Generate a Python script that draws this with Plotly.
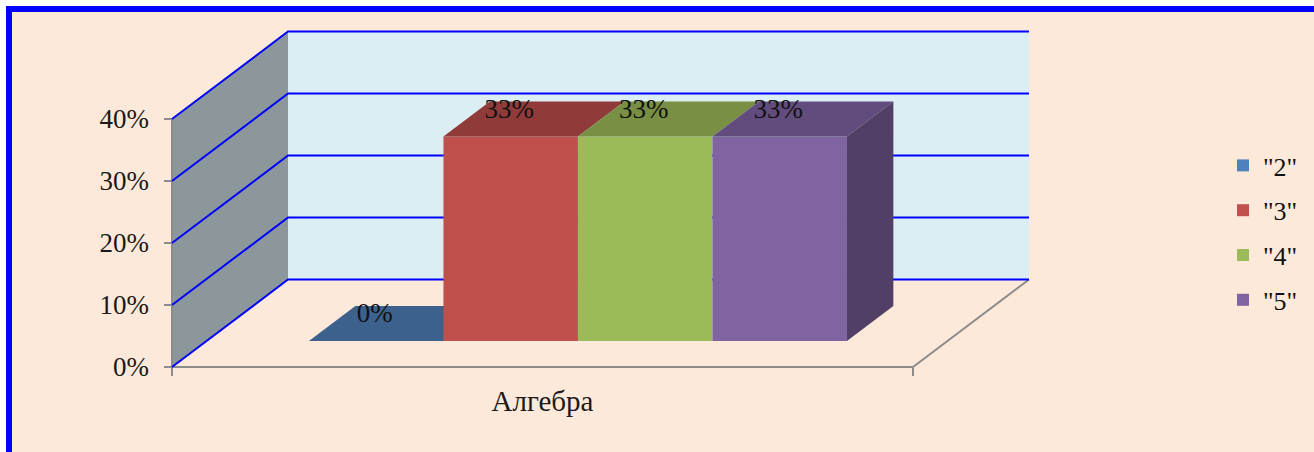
import plotly.graph_objects as go

categories = ["Алгебра"]
series_names = ['"2"', '"3"', '"4"', '"5"']
series_values = [0, 33, 33, 33]
value_labels = ["0%", "33%", "33%", "33%"]
y_ticks = [0, 10, 20, 30, 40]
y_tick_labels = ["0%", "10%", "20%", "30%", "40%"]

front_colors = ["#4F81BD", "#C0504D", "#9BBB59", "#8064A2"]
top_colors = ["#3C618D", "#8F3B39", "#788F44", "#624C7D"]
side_colors = ["#3A5A82", "#7F3432", "#6A7E3C", "#523F66"]

W, H = 1314, 452
FONT = "Liberation Serif"
BLUE = "#0000FF"
GRAY = "#8C8C8C"
TEXT_SIZE = 27

XU = 741.0          # px per category width
YU = 6.2            # px per percent
X0_PX, Y0_PX = 172, 367
DX = 116.0 / XU     # floor depth, x
DY = 87.5 / YU      # floor depth, y
PAD = 4
PAD_L = 10
TICK_PX = 8
YMAX = y_ticks[-1]

D0, D1 = 0.297, 0.697      # bar depth band
BAR_START = 102.5 / XU
BAR_W = 134.5 / XU
LABEL_LIFT = 4.1
LABEL_SHIFT = -1.5 / XU


def P(x, v, d=0.0):
    return x + d * DX, v + d * DY


def poly(points, color, z, name=""):
    xs, ys = zip(*points)
    return go.Scatter(x=list(xs) + [xs[0]], y=list(ys) + [ys[0]], mode="lines", fill="toself",
                      fillcolor=color, line=dict(width=0, color=color), showlegend=False,
                      hoverinfo="skip", zorder=z, name=name)


def line(points, color, width, z):
    xs, ys = zip(*points)
    return go.Scatter(x=list(xs), y=list(ys), mode="lines", line=dict(color=color, width=width),
                      showlegend=False, hoverinfo="skip", zorder=z)


fig = go.Figure()

# walls
fig.add_trace(poly([P(0, 0, 1), P(1, 0, 1), P(1, YMAX, 1), P(0, YMAX, 1)], "#DBEEF4", 0))
fig.add_trace(poly([P(0, 0), P(0, 0, 1), P(0, YMAX, 1), P(0, YMAX)], "#8C979C", 0))
# axes
fig.add_trace(line([P(0, 0), P(0, YMAX)], GRAY, 2, 0))
fig.add_trace(line([P(0, 0), P(1, 0), P(1, 0, 1)], GRAY, 2, 0))
for t in y_ticks:
    fig.add_trace(line([(-TICK_PX / XU, t), (0, t)], GRAY, 2, 0))
# gridlines
for t in y_ticks:
    fig.add_trace(line([P(0, t), P(0, t, 1), P(1, t, 1)], BLUE, 2, 0))

# bars
for i, (name, v) in enumerate(zip(series_names, series_values)):
    x0 = BAR_START + i * BAR_W
    x1 = x0 + BAR_W
    z = i + 1
    # top face
    fig.add_trace(poly([P(x0, v, D0), P(x1, v, D0), P(x1, v, D1), P(x0, v, D1)], top_colors[i], z))
    # front face (also the legend entry)
    cx, base = P((x0 + x1) / 2, 0, D0)
    fig.add_trace(go.Bar(x=[cx], y=[v], base=[base], width=[BAR_W], name=name,
                         marker=dict(color=front_colors[i], line=dict(width=0)),
                         legendgroup=name, hoverinfo="skip", zorder=z))
    # right side face, seen only on the last bar
    if i == len(series_values) - 1:
        fig.add_trace(poly([P(x1, 0, D0), P(x1, 0, D1), P(x1, v, D1), P(x1, v, D0)], side_colors[i], z))

# value labels
for i, (v, lab) in enumerate(zip(series_values, value_labels)):
    cx = BAR_START + (i + 0.5) * BAR_W + D0 * DX + LABEL_SHIFT
    fig.add_trace(go.Scatter(x=[cx], y=[v + D0 * DY + LABEL_LIFT], mode="text", text=[lab],
                             textposition="middle center",
                             textfont=dict(family=FONT, size=TEXT_SIZE, color="#111111"),
                             showlegend=False, hoverinfo="skip", zorder=9))

plot_w = XU * (1 + DX)
plot_h = YU * (YMAX + DY)
left = X0_PX - PAD_L
right = X0_PX + plot_w + PAD
bottom = Y0_PX + PAD
top = Y0_PX - plot_h - PAD

fig.update_layout(
    width=W, height=H, barmode="overlay",
    paper_bgcolor="white", plot_bgcolor="rgba(0,0,0,0)",
    margin=dict(l=0, r=0, t=0, b=0, pad=0, autoexpand=False),
    font=dict(family=FONT, size=TEXT_SIZE, color="#1A1A1A"),
    xaxis=dict(domain=[left / W, right / W],
               range=[-PAD_L / XU, 1 + DX + PAD / XU], anchor="free", position=(H - Y0_PX) / H,
               showgrid=False, zeroline=False, showline=False,
               tickmode="array", tickvals=[0.5], ticktext=categories,
               ticks="outside", ticklen=8, tickcolor="rgba(0,0,0,0)", tickwidth=1,
               tickfont=dict(family=FONT, size=29, color="#1A1A1A"),
               minor=dict(tickmode="array", tickvals=[0, 1], ticks="outside", ticklen=8,
                          tickcolor=GRAY, tickwidth=2, showgrid=False)),
    yaxis=dict(domain=[(H - bottom) / H, (H - top) / H],
               range=[-PAD / YU, YMAX + DY + PAD / YU], anchor="free", position=X0_PX / W,
               showgrid=False, zeroline=False, showline=False,
               tickmode="array", tickvals=y_ticks, ticktext=y_tick_labels,
               ticks="", ticklabelstandoff=23,
               tickfont=dict(family=FONT, size=TEXT_SIZE, color="#1A1A1A")),
    legend=dict(x=1223 / W, y=(H - 142) / H, xref="paper", yref="paper", xanchor="left", yanchor="top",
                traceorder="grouped", tracegroupgap=8,
                bgcolor="rgba(0,0,0,0)", font=dict(family=FONT, size=26, color="#111111")),
    shapes=[dict(type="rect", xref="paper", yref="paper", layer="below",
                 x0=9 / W, x1=1 + 20 / W, y0=-20 / H, y1=1 - 9 / H,
                 fillcolor="#FDE9D9", line=dict(color=BLUE, width=6))],
)

fig.write_html("out.html", config=dict(displayModeBar=False),
               post_script="document.body.style.margin='0';")
